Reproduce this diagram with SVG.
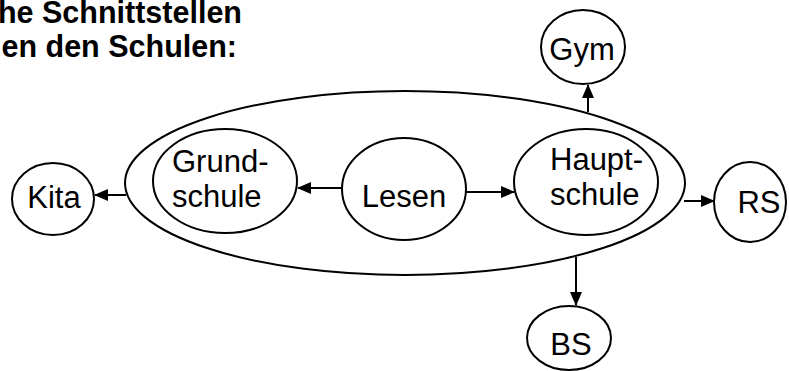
<svg xmlns="http://www.w3.org/2000/svg" width="789" height="371" viewBox="0 0 789 371">
<style>
.n{fill:#fff;stroke:#000;stroke-width:2}
.t{font-family:"Liberation Sans",Arial,sans-serif;font-size:31px;fill:#000}
.h{font-family:"Liberation Sans",Arial,sans-serif;font-size:30.5px;font-weight:bold;fill:#000}
.c{stroke:#000;stroke-width:2;fill:none;marker-end:url(#a)}
</style>
<defs>
<marker id="a" markerWidth="14" markerHeight="12" refX="13" refY="6" orient="auto" markerUnits="userSpaceOnUse" viewBox="0 0 14 12">
<path d="M0,0 L14,6 L0,12 z" fill="#000"/>
</marker>
</defs>
<rect width="789" height="371" fill="#fff"/>
<g id="title">
<text class="h" x="242" y="23" text-anchor="end">he Schnittstellen</text>
<text class="h" x="237" y="57" text-anchor="end">en den Schulen:</text>
</g>
<g id="schulen">
<ellipse class="n" cx="405" cy="183" rx="280" ry="92"/>
</g>
<g id="grundschule">
<ellipse class="n" cx="225" cy="181" rx="72" ry="52"/>
<text class="t" x="172" y="172">Grund-</text>
<text class="t" x="172" y="207">schule</text>
</g>
<g id="lesen">
<ellipse class="n" cx="404" cy="189" rx="62" ry="51"/>
<text class="t" x="404" y="207" text-anchor="middle">Lesen</text>
</g>
<g id="hauptschule">
<ellipse class="n" cx="586" cy="182" rx="72" ry="53"/>
<text class="t" x="550" y="170">Haupt-</text>
<text class="t" x="550" y="205">schule</text>
</g>
<g id="kita">
<ellipse class="n" cx="53" cy="199" rx="41" ry="36"/>
<text class="t" x="54" y="208" text-anchor="middle">Kita</text>
</g>
<g id="gym">
<ellipse class="n" cx="583" cy="47" rx="42" ry="37"/>
<text class="t" x="582" y="60" text-anchor="middle">Gym</text>
</g>
<g id="rs">
<ellipse class="n" cx="750" cy="202" rx="36" ry="40"/>
<text class="t" x="759" y="213" text-anchor="middle">RS</text>
</g>
<g id="bs">
<ellipse class="n" cx="569" cy="338" rx="42" ry="32"/>
<text class="t" x="571" y="355" text-anchor="middle">BS</text>
</g>
<g id="connectors">
<line class="c" x1="126" y1="195" x2="95" y2="195"/>
<line class="c" x1="342" y1="188" x2="298" y2="188"/>
<line class="c" x1="466" y1="192" x2="514" y2="192"/>
<line class="c" x1="588" y1="112" x2="588" y2="85"/>
<line class="c" x1="684" y1="201" x2="714" y2="201"/>
<line class="c" x1="576" y1="257" x2="576" y2="305"/>
</g>
</svg>
